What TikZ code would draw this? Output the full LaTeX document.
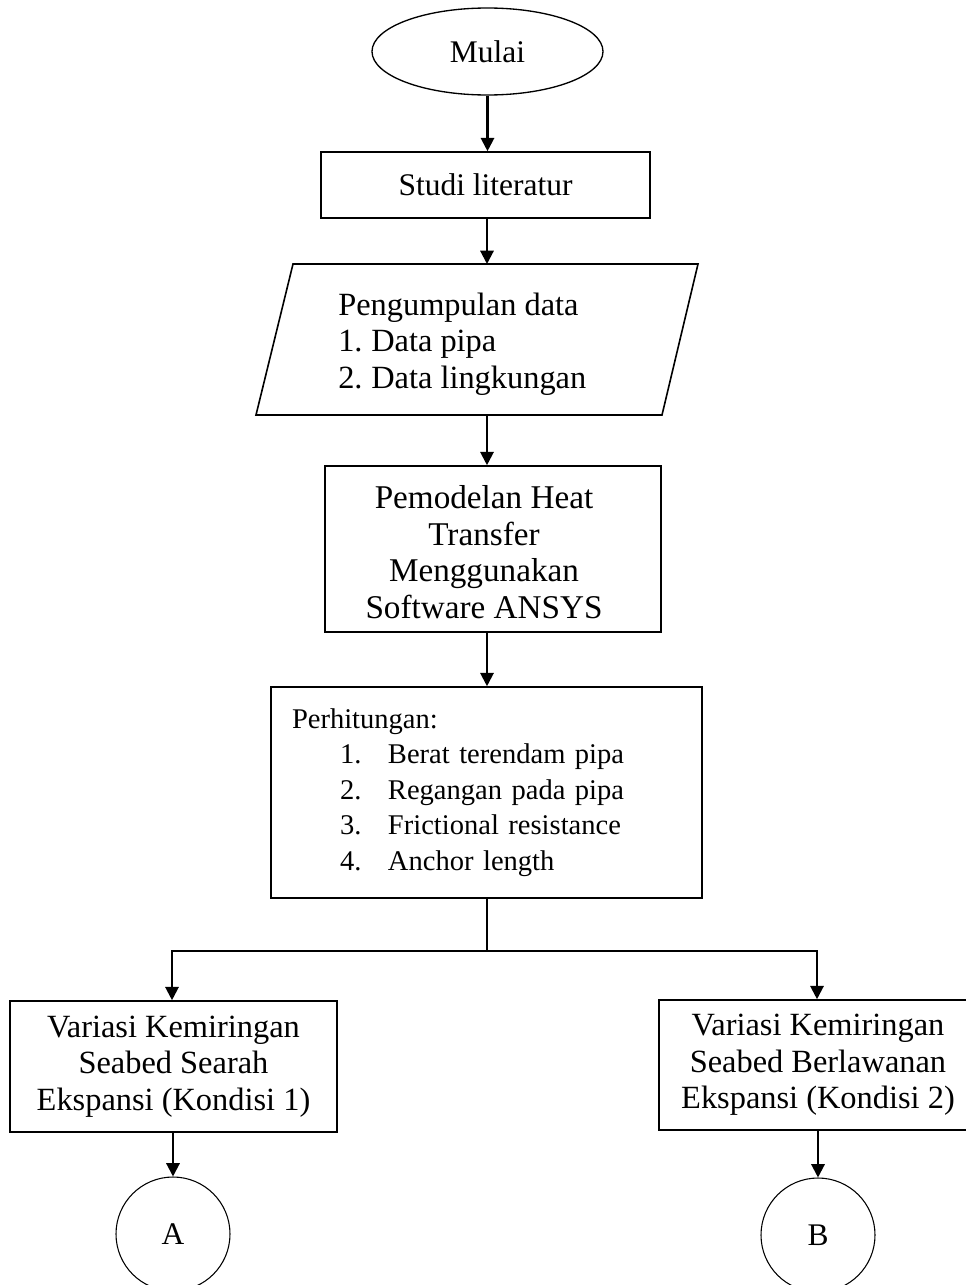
\documentclass[tikz,border=0pt]{standalone}
\usepackage{fontspec}
\setmainfont{Liberation Serif}
\usetikzlibrary{shapes.geometric,arrows.meta}
\newcommand{\myBig}{\fontsize{23.6}{27.4}\selectfont}
\newcommand{\myMid}{\fontsize{24.3}{27.4}\selectfont}
\newcommand{\myHeat}{\fontsize{24.9}{27.4}\selectfont}
\newcommand{\mySmall}{\fontsize{21.4}{26.6}\selectfont}
\begin{document}
\begin{tikzpicture}[x=0.75pt,y=-0.75pt,
  box/.style={draw,line width=1.2pt,rectangle,inner sep=0pt,align=center,font=\myBig},
  arr/.style={line width=1.6pt,line join=miter,-{Triangle[length=10pt,width=10pt]}},
  ln/.style={line width=1.3pt},
  conn/.style={draw,circle,line width=0.8pt,minimum size=85.5pt,inner sep=0pt,font=\myBig}]
\useasboundingbox (0,0) rectangle (966,1285);
\clip (0,0) rectangle (966,1285);

\node[ellipse,draw,line width=1pt,minimum width=173.25pt,minimum height=65.25pt,inner sep=0pt,font=\myBig] (mulai) at (487.5,51.5) {Mulai};
\node[box,minimum width=246.75pt,minimum height=49.5pt] (studi) at (485.5,185) {Studi literatur};

\draw[line width=1.2pt] (293,264) -- (698,264) -- (662,415) -- (256,415) -- cycle;
\coordinate (dtop) at (487,264);
\coordinate (dbot) at (487,415);
\node[anchor=west,inner sep=0pt,align=left,font=\myMid] (dtxt) at (338,344)
  {Pengumpulan data\\ \makebox[24.75pt][l]{1.}Data pipa\\ \makebox[24.75pt][l]{2.}Data lingkungan};

\node[box,minimum width=252pt,minimum height=124.5pt,font=\myHeat] (heat) at (493,549)
  {\begin{tabular}{@{}c@{}}\rule{0pt}{30pt}Pemodelan Heat\\Transfer\\Menggunakan\\Software ANSYS\end{tabular}\hspace*{13.5pt}};

\node[box,minimum width=323.25pt,minimum height=158.25pt,text width=291.75pt,inner xsep=15.75pt,align=left,font=\mySmall] (hitung) at (486.5,792.5)
  {Perhitungan:\\
   \hspace*{36pt}\makebox[36pt][l]{1.}Berat terendam pipa\\
   \hspace*{36pt}\makebox[36pt][l]{2.}Regangan pada pipa\\
   \hspace*{36pt}\makebox[36pt][l]{3.}Frictional resistance\\
   \hspace*{36pt}\makebox[36pt][l]{4.}Anchor length};

\node[box,minimum width=245.25pt,minimum height=98.25pt,font=\myMid] (kiri) at (173.5,1066.5)
  {Variasi Kemiringan\\Seabed Searah\\Ekspansi (Kondisi 1)};
\node[box,minimum width=238.5pt,minimum height=97.5pt,font=\myMid] (kanan) at (818,1065)
  {Variasi Kemiringan\\Seabed Berlawanan\\Ekspansi (Kondisi 2)};

\node[conn] (ca) at (173,1234) {A};
\node[conn] (cb) at (818,1235) {B};

\draw[arr] (mulai.south) -- (mulai.south |- studi.north);
\draw[arr] (dtop |- studi.south) -- (dtop);
\draw[arr] (dbot) -- (dbot |- heat.north);
\draw[arr] (dbot |- heat.south) -- (dbot |- hitung.north);

\coordinate (br) at (487,951);
\coordinate (bl) at (172,951);
\coordinate (brr) at (817,951);
\draw[ln] (dbot |- hitung.south) -- (br);
\draw[arr] (br) -| (bl |- kiri.north);
\draw[arr] (br) -| (brr |- kanan.north);
\draw[arr] (ca.north |- kiri.south) -- (ca.north);
\draw[arr] (cb.north |- kanan.south) -- (cb.north);
\end{tikzpicture}
\end{document}
